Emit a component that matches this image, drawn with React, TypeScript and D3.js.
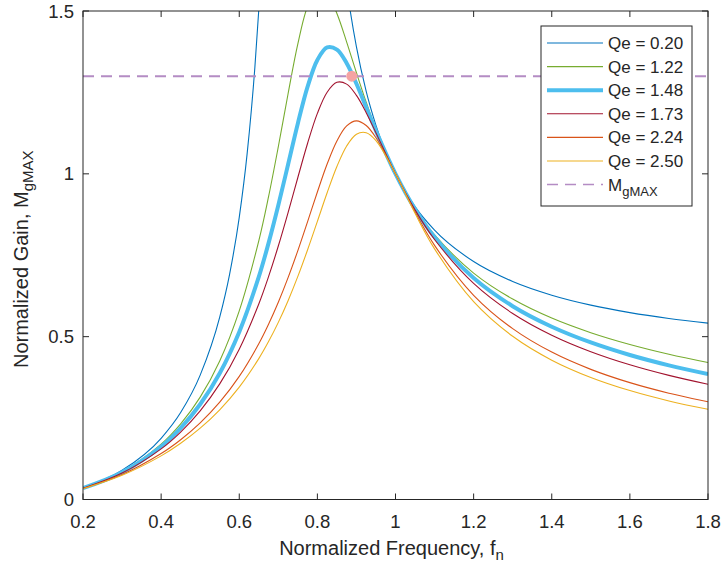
import React from 'react';
import * as d3 from 'd3';

// Normalized frequency samples (Qe = 0.20 curve, denser around its clipped peak)
const FN_A = [0.2, 0.3, 0.4, 0.45, 0.5, 0.55, 0.575, 0.6, 0.62, 0.64, 0.65, 0.66, 0.68, 0.7, 0.75, 0.775, 0.8, 0.825, 0.85, 0.86, 0.875, 0.88, 0.9, 0.925, 0.95, 1.0, 1.05, 1.1, 1.2, 1.3, 1.4, 1.5, 1.6, 1.7, 1.8];
const GAIN_QE_020 = [0.0359, 0.0897, 0.188, 0.2671, 0.3819, 0.5599, 0.69, 0.8665, 1.0597, 1.3275, 1.5036, 1.7207, 2.3467, 3.46, 7.45, 4.41, 2.97, 2.25, 1.8421, 1.7227, 1.5754, 1.5331, 1.3896, 1.2531, 1.1487, 1.0, 0.8995, 0.8272, 0.7306, 0.6694, 0.6274, 0.5969, 0.5739, 0.5559, 0.5415];

// Normalized frequency samples for the other curves
const FN_B = [0.2, 0.3, 0.4, 0.45, 0.5, 0.55, 0.6, 0.65, 0.675, 0.7, 0.725, 0.75, 0.775, 0.8, 0.825, 0.85, 0.875, 0.9, 0.925, 0.95, 1.0, 1.05, 1.1, 1.2, 1.3, 1.4, 1.5, 1.6, 1.7, 1.8];
const GAIN_QE_122 = [0.0352, 0.0852, 0.1698, 0.2321, 0.3144, 0.4256, 0.5793, 0.7942, 0.9298, 1.0832, 1.2459, 1.3991, 1.5145, 1.5678, 1.5546, 1.4923, 1.4046, 1.3103, 1.2197, 1.1373, 1.0, 0.8945, 0.8126, 0.6953, 0.6155, 0.5571, 0.5122, 0.476, 0.446, 0.4206];
const GAIN_QE_148 = [0.0348, 0.0833, 0.1627, 0.2194, 0.2924, 0.3878, 0.5145, 0.6836, 0.7873, 0.9035, 1.0288, 1.1549, 1.2676, 1.3496, 1.3882, 1.3816, 1.3397, 1.2765, 1.2045, 1.1319, 1.0, 0.8921, 0.8058, 0.68, 0.5936, 0.5306, 0.4823, 0.4437, 0.4119, 0.3852];
const GAIN_QE_173 = [0.0345, 0.0812, 0.1556, 0.2072, 0.2722, 0.3549, 0.4617, 0.6005, 0.6843, 0.7783, 0.8811, 0.9888, 1.094, 1.1855, 1.2507, 1.281, 1.2754, 1.2408, 1.1878, 1.1258, 1.0, 0.8894, 0.7983, 0.6636, 0.5713, 0.5045, 0.4538, 0.4137, 0.3811, 0.3539];
const GAIN_QE_224 = [0.0335, 0.0767, 0.1411, 0.1836, 0.2353, 0.2989, 0.3781, 0.4783, 0.5382, 0.6057, 0.6812, 0.7643, 0.8534, 0.9443, 1.03, 1.1008, 1.147, 1.1627, 1.1485, 1.1109, 1.0, 0.8827, 0.7802, 0.6271, 0.5246, 0.4526, 0.3996, 0.3588, 0.3264, 0.2999];
const GAIN_QE_250 = [0.033, 0.0742, 0.134, 0.1727, 0.2191, 0.2755, 0.3451, 0.4326, 0.4849, 0.5439, 0.6105, 0.685, 0.7669, 0.854, 0.9418, 1.0225, 1.0856, 1.1218, 1.1264, 1.1021, 1.0, 0.8787, 0.7697, 0.6076, 0.5012, 0.4279, 0.3748, 0.3345, 0.3027, 0.2771];

const SERIES_LABELS = ['Qe = 0.20', 'Qe = 1.22', 'Qe = 1.48', 'Qe = 1.73', 'Qe = 2.24', 'Qe = 2.50'];
const X_TICKS = [0.2, 0.4, 0.6, 0.8, 1, 1.2, 1.4, 1.6, 1.8];
const Y_TICKS = [0, 0.5, 1, 1.5];
const MGMAX = 1.3;
const MARK_FN = [0.888];
const MARK_GAIN = [1.3];

const FONT = '"Liberation Sans", Arial, Helvetica, sans-serif';
const TXT = '#262626';

export default function App() {
  const W = 722, H = 572;
  const L = 83, R = 708, T = 11, B = 499.5;
  const x = d3.scaleLinear().domain([0.2, 1.8]).range([L, R]);
  const y = d3.scaleLinear().domain([0, 1.5]).range([B, T]);
  const lineMono = d3.line<[number, number]>().x(d => x(d[0])).y(d => y(d[1])).curve(d3.curveMonotoneX);
  const lineSmooth = d3.line<[number, number]>().x(d => x(d[0])).y(d => y(d[1])).curve(d3.curveCatmullRom.alpha(0.5));

  const styles = [
    { color: '#0072BD', width: 1.1 },
    { color: '#77AC30', width: 1.1 },
    { color: '#4DBEEE', width: 4 },
    { color: '#A2142F', width: 1.1 },
    { color: '#D95319', width: 1.1 },
    { color: '#EDB120', width: 1.1 },
  ];
  const data: [number[], number[]][] = [
    [FN_A, GAIN_QE_020],
    [FN_B, GAIN_QE_122],
    [FN_B, GAIN_QE_148],
    [FN_B, GAIN_QE_173],
    [FN_B, GAIN_QE_224],
    [FN_B, GAIN_QE_250],
  ];

  const tickLen = 6;
  const legX = 541, legY = 26, legW = 151, legH = 180;
  const rowY = (i: number) => legY + 17 + i * 23.6;
  const dashColor = '#B48CC4';

  return (
    <svg width={W} height={H} style={{ position: 'absolute', left: 0, top: 0, background: '#fff' }} fontFamily={FONT}>
      <defs>
        <clipPath id="plotClip">
          <rect x={L} y={T} width={R - L} height={B - T} />
        </clipPath>
      </defs>
      <rect x={0} y={0} width={W} height={H} fill="#fff" />
      <g clipPath="url(#plotClip)">
        {data.map((d, i) => {
          const pts = d[0].map((f, j) => [f, d[1][j]] as [number, number]);
          const gen = i === 0 ? lineMono : lineSmooth;
          return (
            <path key={i} d={gen(pts) || ''}
              fill="none" stroke={styles[i].color} strokeWidth={styles[i].width} strokeLinejoin="round" />
          );
        })}
        <line x1={L} x2={R} y1={y(MGMAX)} y2={y(MGMAX)} stroke={dashColor} strokeWidth={2} strokeDasharray="11 7" />
        {MARK_FN.map((f, i) => (
          <circle key={i} cx={x(f)} cy={y(MARK_GAIN[i])} r={5.5} fill="#F5A3A3" />
        ))}
      </g>
      {/* axes box */}
      <rect x={L} y={T} width={R - L} height={B - T} fill="none" stroke={TXT} strokeWidth={1} />
      {X_TICKS.map(t => (
        <g key={'x' + t}>
          <line x1={x(t)} x2={x(t)} y1={B} y2={B - tickLen} stroke={TXT} strokeWidth={1} />
          <line x1={x(t)} x2={x(t)} y1={T} y2={T + tickLen} stroke={TXT} strokeWidth={1} />
          <text x={x(t)} y={B + 28} textAnchor="middle" fontSize={18.5} fill={TXT}>{String(t)}</text>
        </g>
      ))}
      {Y_TICKS.map(t => (
        <g key={'y' + t}>
          <line x1={L} x2={L + tickLen} y1={y(t)} y2={y(t)} stroke={TXT} strokeWidth={1} />
          <line x1={R} x2={R - tickLen} y1={y(t)} y2={y(t)} stroke={TXT} strokeWidth={1} />
          <text x={L - 9} y={y(t) + 6.5} textAnchor="end" fontSize={18.5} fill={TXT}>{String(t)}</text>
        </g>
      ))}
      <text x={(L + R) / 2 - 4} y={555} textAnchor="middle" fontSize={20} fill={TXT}>
        Normalized Frequency, f<tspan fontSize={15} dy={5}>n</tspan>
      </text>
      <text transform={`translate(28, ${(T + B) / 2 + 4}) rotate(-90)`} textAnchor="middle" fontSize={20} fill={TXT}>
        Normalized Gain, M<tspan fontSize={15} dy={5}>gMAX</tspan>
      </text>
      {/* legend */}
      <rect x={legX} y={legY} width={legW} height={legH} fill="#fff" stroke={TXT} strokeWidth={1} />
      {SERIES_LABELS.map((lab, i) => (
        <g key={lab}>
          <line x1={legX + 6} x2={legX + 62} y1={rowY(i)} y2={rowY(i)} stroke={styles[i].color} strokeWidth={styles[i].width} />
          <text x={legX + 67} y={rowY(i) + 6} fontSize={17} fill={TXT}>{lab}</text>
        </g>
      ))}
      <line x1={legX + 6} x2={legX + 62} y1={rowY(6)} y2={rowY(6)} stroke={dashColor} strokeWidth={1.5} strokeDasharray="11 7" />
      <text x={legX + 67} y={rowY(6) + 6} fontSize={17} fill={TXT}>
        M<tspan fontSize={13} dy={5}>gMAX</tspan>
      </text>
    </svg>
  );
}
